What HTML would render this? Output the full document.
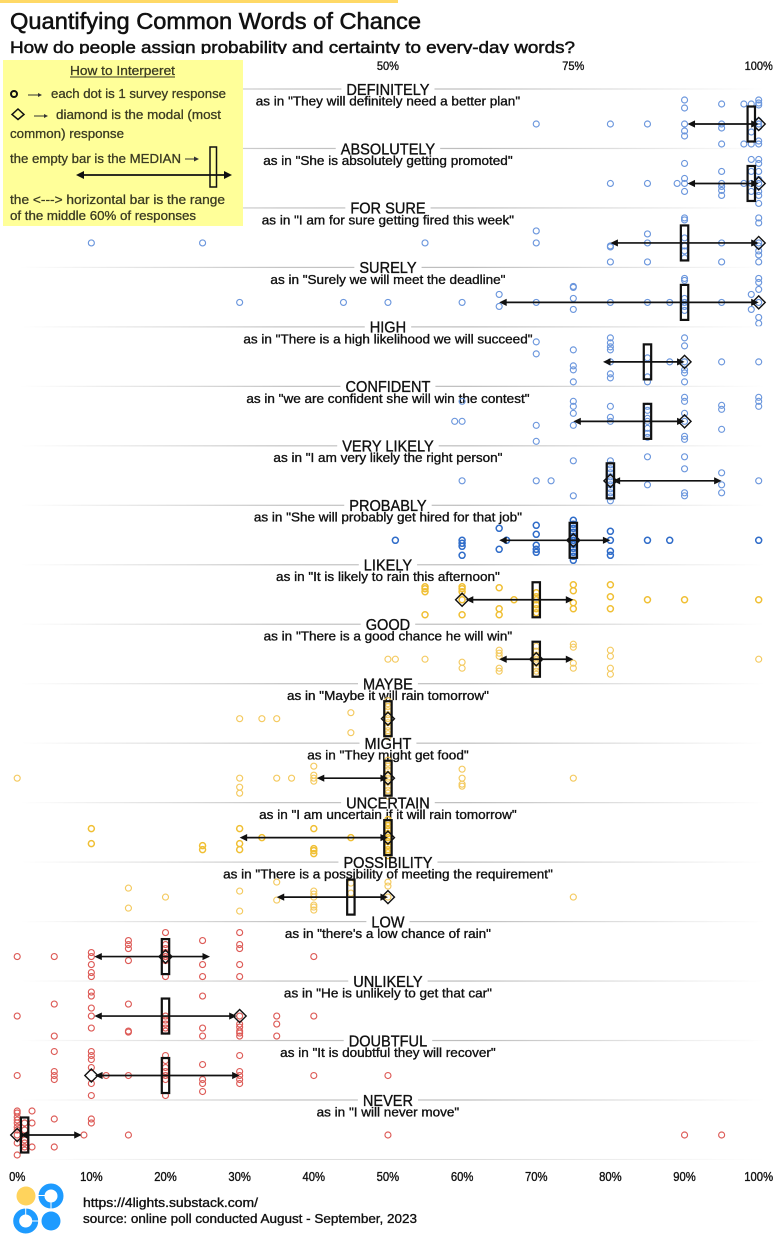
<!DOCTYPE html>
<html lang="en">
<head>
<meta charset="utf-8">
<title>Quantifying Common Words of Chance</title>
<style>
  html, body { margin: 0; padding: 0; background: #fff; }
  svg { display: block; }
  text { font-family: "Liberation Sans", "DejaVu Sans", sans-serif; }
  .ink { fill: #111; stroke: #111; stroke-width: 0.35px; }
  .legend-ink { fill: #3a3a22; stroke: #3a3a22; stroke-width: 0.28px; font-size: 12.5px; }
</style>
</head>
<body>
<svg id="chart" xmlns="http://www.w3.org/2000/svg" width="782" height="1245" viewBox="0 0 782 1245">
  <defs>
    <linearGradient id="rule-fade" gradientUnits="userSpaceOnUse" x1="20" y1="0" x2="765" y2="0">
      <stop offset="0" stop-color="#ffffff"/>
      <stop offset="0.35" stop-color="#c4c4c4"/>
      <stop offset="0.6" stop-color="#bdbdbd"/>
      <stop offset="1" stop-color="#ffffff"/>
    </linearGradient>
  </defs>
  <rect width="782" height="1245" fill="#ffffff"/>
  <rect x="0" y="0" width="398" height="3" fill="#ffd966"/>

  <text class="ink" style="stroke-width:0.55px" x="10" y="29" font-size="23" textLength="411" lengthAdjust="spacingAndGlyphs">Quantifying Common Words of Chance</text>
  <text class="ink" style="stroke-width:0.5px" x="10" y="53" font-size="16.5" textLength="565" lengthAdjust="spacingAndGlyphs">How do people assign probability and certainty to every-day words?</text>
  <rect x="0" y="54" width="782" height="7" fill="#ffffff"/>

  <g id="rows"></g>
  <g id="axes"></g>

  <g>
    <rect x="3" y="60" width="240" height="166" fill="#ffff99"/>
    <text class="legend-ink" x="70" y="75" font-size="12.5" textLength="105" lengthAdjust="spacingAndGlyphs">How to Interperet</text>
    <line x1="70" y1="77" x2="175" y2="77" stroke="#3a3a22" stroke-width="0.9"/>

    <circle cx="14" cy="94" r="3" fill="none" stroke="#111" stroke-width="2"/>
    <line x1="28" y1="95" x2="40" y2="95" stroke="#333" stroke-width="1"/>
    <polygon points="42,95 38,93 38,97" fill="#333"/>
    <text class="legend-ink" x="51" y="98" textLength="175" lengthAdjust="spacingAndGlyphs">each dot is 1 survey response</text>

    <polygon points="18,109 24,114.500 18,119.500 12,114.500" fill="none" stroke="#111" stroke-width="1.5"/>
    <line x1="34" y1="116" x2="46" y2="116" stroke="#333" stroke-width="1"/>
    <polygon points="48,116 44,114 44,118" fill="#333"/>
    <text class="legend-ink" x="56" y="119" textLength="165" lengthAdjust="spacingAndGlyphs">diamond is the modal (most</text>
    <text class="legend-ink" x="10" y="138" textLength="114" lengthAdjust="spacingAndGlyphs">common) response</text>

    <text class="legend-ink" x="10" y="163" textLength="171" lengthAdjust="spacingAndGlyphs">the empty bar is the MEDIAN</text>
    <line x1="185" y1="159" x2="196" y2="159" stroke="#333" stroke-width="1"/>
    <polygon points="199,159 194,156.500 194,161.500" fill="#333"/>
    <rect x="210" y="147" width="6.500" height="40" fill="none" stroke="#111" stroke-width="1.500"/>
    <line x1="80" y1="175" x2="228" y2="175" stroke="#111" stroke-width="1.800"/>
    <polygon points="76,175 84,171 84,179" fill="#111"/>
    <polygon points="232,175 224,171 224,179" fill="#111"/>

    <text class="legend-ink" x="10" y="204" textLength="215" lengthAdjust="spacingAndGlyphs">the &lt;---&gt; horizontal bar is the range</text>
    <text class="legend-ink" x="10" y="220" textLength="186" lengthAdjust="spacingAndGlyphs">of the middle 60% of responses</text>
  </g>

  <g>
    <circle cx="26" cy="1196" r="9.500" fill="#ffd35c"/>
    <circle cx="51" cy="1196" r="9.500" fill="none" stroke="#1e9bff" stroke-width="6"/>
    <rect x="38" y="1195" width="7" height="1" fill="#ffffff"/>
    <rect x="50.500" y="1202" width="1" height="7" fill="#ffffff"/>
    <circle cx="25.700" cy="1221" r="9.500" fill="none" stroke="#1e9bff" stroke-width="6"/>
    <rect x="32" y="1220.500" width="7" height="1" fill="#ffffff"/>
    <rect x="25.200" y="1208" width="1" height="7" fill="#ffffff"/>
    <circle cx="51" cy="1221" r="9.500" fill="#1e9bff"/>
  </g>

  <text class="ink" x="83" y="1207" font-size="13" textLength="175" lengthAdjust="spacingAndGlyphs">https://4lights.substack.com/</text>
  <text class="ink" x="83" y="1223" font-size="13" textLength="334" lengthAdjust="spacingAndGlyphs">source: online poll conducted August - September, 2023</text>
</svg>

<script>
// ---------- chart data ----------
const words = ["DEFINITELY","ABSOLUTELY","FOR SURE","SURELY","HIGH","CONFIDENT","VERY LIKELY","PROBABLY","LIKELY","GOOD","MAYBE","MIGHT","UNCERTAIN","POSSIBILITY","LOW","UNLIKELY","DOUBTFUL","NEVER"];
const sentences = [
  'as in "They will definitely need a better plan"',
  'as in "She is absolutely getting promoted"',
  'as in "I am for sure getting fired this week"',
  'as in "Surely we will meet the deadline"',
  'as in "There is a high likelihood we will succeed"',
  'as in "we are confident she will win the contest"',
  'as in "I am very likely the right person"',
  'as in "She will probably get hired for that job"',
  'as in "It is likely to rain this afternoon"',
  'as in "There is a good chance he will win"',
  'as in "Maybe it will rain tomorrow"',
  'as in "They might get food"',
  'as in "I am uncertain if it will rain tomorrow"',
  'as in "There is a possibility of meeting the requirement"',
  'as in "there\'s a low chance of rain"',
  'as in "He is unlikely to get that car"',
  'as in "It is doubtful they will recover"',
  'as in "I will never move"'
];
const medians   = [99,99,90,90,85,85,80,75,70,70,50,50,50,45,20,20,20,1];
const modes     = [100,100,100,100,90,90,80,75,60,70,50,50,50,50,20,30,10,0];
const rangeLow  = [90.4,90.4,80,65,79,75,80.3,65,60.5,65,50,40.4,30,35,10.4,10.4,10.5,0.4];
const rangeHigh = [100,100,100,100,90,90,95,80,75,75,50,50,50,50,26,29.6,30,8.7];
const sentiment = ["high","high","high","high","high","high","high","high","mid","mid","mid","mid","mid","mid","low","low","low","low"];
const topTicks = [50,75,100];
const bottomTicks = [0,10,20,30,40,50,60,70,80,90,100];

// Each response (percent) with its vertical jitter lane (-25 .. 25), row by row.
const responses = [
  [70,80,85,90,90,90,90,90,95,95,95,95,98,98,99,99,99,100,100,100,100,100,100,100,100],
  [80,85,89,90,90,90,90,95,95,95,95,95,98,99,99,99,99,100,100,100,100,100,100,100,100],
  [10,25,55,70,70,80,80,80,85,85,85,90,90,90,90,90,90,95,95,100,100,100,100,100,100,100],
  [30,44,50,60,65,65,70,75,75,75,75,80,85,88,90,90,90,90,90,90,95,99,99,100,100,100,100,100,100],
  [70,70,75,75,75,75,80,80,80,80,80,80,80,85,85,85,88,90,90,90,90,90,90,95,100],
  [59,60,60,70,70,75,75,75,75,80,80,80,85,85,85,85,85,85,85,90,90,90,90,90,90,95,95,95,100,100,100],
  [60,70,72,75,75,80,80,80,80,80,80,80,80,80,80,80,85,85,90,90,90,90,95,95,95,100],
  [51,60,60,60,60,65,65,66,70,70,70,70,70,75,75,75,75,75,75,75,75,75,75,75,80,80,80,80,85,88,100],
  [55,55,55,55,60,60,60,60,60,65,65,65,67,70,70,70,70,70,70,75,75,75,75,80,80,80,85,90,100],
  [50,51,55,60,60,65,65,65,65,65,70,70,70,70,70,70,70,70,75,75,75,75,80,80,80,80,100],
  [30,33,35,45,45,50,50,50,50,50,50,50,50,50,50,50],
  [0,30,30,30,35,37,40,40,40,40,50,50,50,50,50,50,50,50,50,50,50,60,60,60,60,75],
  [10,10,25,25,30,30,30,33,40,40,40,40,45,50,50,50,50,50,50,50,50,50,50,50],
  [15,15,20,30,30,35,35,40,40,40,40,40,40,45,45,50,50,50,75],
  [0,5,10,10,10,10,10,15,15,15,15,20,20,20,20,20,20,20,25,25,25,30,30,30,30,30,40],
  [0,5,5,10,10,10,10,10,15,15,15,20,20,20,20,20,25,25,25,30,30,30,30,30,30,35,35,35,40],
  [0,5,5,5,5,10,10,10,10,10,10,12,15,20,20,20,20,20,20,20,25,25,25,25,30,30,30,30,30,40,50],
  [0,0,0,0,0,0,0,0,0,0,1,1,1,1,1,1,2,2,2,5,5,9,10,10,15,50,90,95]
];
const jitter = [
  [0,0,0,-24,-16,0,7,12,-20,0,4,20,-20,20,-20,8,20,-24,-21,-19,-3,0,3,17,20],
  [0,0,0,-20,-5,0,8,-12,0,3,7,12,0,-24,-12,0,8,-24,-20,-12,-4,0,8,12,20],
  [0,0,0,-12,0,3,4,19,-9,0,19,-25,-23,-5,3,8,15,0,19,-25,-20,0,3,8,12,19],
  [0,0,0,0,-8,4,0,-16,-15,-4,7,0,0,0,-24,-22,-4,0,4,8,0,-8,7,-24,-20,-13,0,15,21],
  [-20,-8,-12,4,8,20,-24,-19,-15,-12,0,12,16,-4,15,20,0,-24,-16,0,8,11,20,0,0],
  [0,0,-20,4,20,-20,-15,-8,4,-15,-4,0,-15,-11,-3,0,7,12,16,-24,-20,-8,0,15,18,-16,-12,8,-24,-20,-15],
  [0,0,0,-20,15,-20,-16,-12,-8,-4,0,4,8,12,16,20,-24,4,-24,-12,12,15,-8,4,12,0],
  [0,0,3,6,15,-12,9,0,-15,-6,5,9,12,-20,-16,-12,-8,-4,0,4,8,12,16,20,-9,0,11,15,0,0,0],
  [-13,-11,-8,15,-13,-11,-8,0,15,-12,9,15,0,-7,-3,0,5,9,13,-15,-9,3,9,-15,-3,9,0,0,0],
  [0,0,0,3,9,-9,-6,-3,9,12,-13,-8,-4,0,4,8,12,15,-15,-12,4,9,-9,-3,9,15,0],
  [0,0,0,-6,14,-18,-15,-12,-8,-4,0,4,8,12,15,18],
  [0,0,9,15,0,0,-12,-3,0,3,-18,-15,-12,-8,-4,0,4,8,12,15,18,-9,0,6,8,0],
  [-9,6,8,12,-9,6,12,0,-9,11,13,16,0,-18,-15,-12,-8,-4,0,4,8,12,15,18],
  [-9,11,0,-6,14,-15,3,-6,-3,0,8,10,13,-14,-4,-15,-11,0,0],
  [0,0,-4,0,8,16,20,-16,-12,-8,4,-24,-12,-8,-4,0,4,20,-16,8,20,-24,-12,-8,8,20,0],
  [0,-12,20,-24,-20,-8,0,12,-12,15,16,0,4,8,12,15,-20,12,20,0,8,11,15,17,20,0,8,20,0],
  [0,-24,-4,0,4,-24,-20,-16,-8,8,20,0,0,-20,-15,-8,-4,0,4,20,-11,4,8,16,-20,-4,0,4,8,0,0],
  [-24,-22,-18,-15,-12,-8,-5,0,8,20,-12,-5,5,8,12,15,-24,-12,12,-16,12,0,-16,-12,0,0,0,0]
];

// ---------- axis functions ----------
function xScale(pct) { return 17.2 + 7.415 * pct; }
function rowY(i) { return 124 + 59.47 * i; }
function laneOffset(lane) { return lane * 1; }

const SVG_NS = "http://www.w3.org/2000/svg";
const rowsLayer = document.getElementById("rows");
const axesLayer = document.getElementById("axes");

function dotStroke(i) {
  if (sentiment[i] === "high") return i === 7 ? "#2f6cc9" : "#6c97dd";
  if (sentiment[i] === "mid") return (i === 8 || i === 12) ? "#f0bf33" : "#f4ca60";
  return "#dd5b57";
}
function dotWidth(i) {
  return (i === 7 || i === 8 || i === 12) ? 1.5 : 1.15;
}
function condense(el, centerX, k) {
  const w = el.getComputedTextLength() * k;
  el.setAttribute("textLength", w);
  el.setAttribute("lengthAdjust", "spacingAndGlyphs");
  el.setAttribute("x", centerX - w / 2);
  return w;
}

const centerX = xScale(50);

words.forEach(function (word, i) {
  const cy = rowY(i);
  const ruleY = cy - 35;

  const group = document.createElementNS(SVG_NS, "g");
  
  
  rowsLayer.appendChild(group);

  const wordText = document.createElementNS(SVG_NS, "text");
  
  
  wordText.setAttribute("class", "ink");
  wordText.setAttribute("y", cy - 29.2);
  wordText.setAttribute("font-size", "16");
  wordText.textContent = word;
  group.appendChild(wordText);
  const wordWidth = condense(wordText, centerX, 0.91);

  const sentenceText = document.createElementNS(SVG_NS, "text");
  
  
  sentenceText.setAttribute("class", "ink");
  sentenceText.setAttribute("y", cy - 18.6);
  sentenceText.setAttribute("font-size", "13");
  sentenceText.textContent = sentences[i];
  group.appendChild(sentenceText);
  condense(sentenceText, centerX, 1.04);

  const ruleLeft = document.createElementNS(SVG_NS, "rect");
  
  
  ruleLeft.setAttribute("x", 20);
  ruleLeft.setAttribute("y", ruleY - 0.6);
  ruleLeft.setAttribute("width", centerX - wordWidth / 2 - 5 - 20);
  ruleLeft.setAttribute("height", 1.2);
  ruleLeft.setAttribute("fill", "url(#rule-fade)");
  group.appendChild(ruleLeft);

  const ruleRight = document.createElementNS(SVG_NS, "rect");
  
  
  ruleRight.setAttribute("x", centerX + wordWidth / 2 + 5);
  ruleRight.setAttribute("y", ruleY - 0.6);
  ruleRight.setAttribute("width", 765 - (centerX + wordWidth / 2 + 5));
  ruleRight.setAttribute("height", 1.2);
  ruleRight.setAttribute("fill", "url(#rule-fade)");
  group.appendChild(ruleRight);

  responses[i].forEach(function (value, k) {
    const dot = document.createElementNS(SVG_NS, "circle");
    
    
    dot.setAttribute("cx", xScale(value));
    dot.setAttribute("cy", cy + laneOffset(jitter[i][k]));
    dot.setAttribute("r", 3);
    dot.setAttribute("fill", "none");
    dot.setAttribute("stroke", dotStroke(i));
    dot.setAttribute("stroke-width", dotWidth(i));
    group.appendChild(dot);
  });

  const medianBar = document.createElementNS(SVG_NS, "rect");
  
  
  medianBar.setAttribute("x", xScale(medians[i]) - 3.7);
  medianBar.setAttribute("y", cy - 17.5);
  medianBar.setAttribute("width", 7.4);
  medianBar.setAttribute("height", 35);
  medianBar.setAttribute("fill", "none");
  medianBar.setAttribute("stroke", "#111");
  medianBar.setAttribute("stroke-width", 2.2);
  group.appendChild(medianBar);

  const diamondX = xScale(modes[i]);
  const diamond = document.createElementNS(SVG_NS, "polygon");
  
  
  diamond.setAttribute("points", [
    diamondX + "," + (cy - 6.5),
    (diamondX + 6.5) + "," + cy,
    diamondX + "," + (cy + 6.5),
    (diamondX - 6.5) + "," + cy
  ].join(" "));
  diamond.setAttribute("fill", "none");
  diamond.setAttribute("stroke", "#111");
  diamond.setAttribute("stroke-width", 1.4);
  group.appendChild(diamond);

  if (rangeHigh[i] > rangeLow[i]) {
    const xa = xScale(rangeLow[i]);
    const xb = xScale(rangeHigh[i]);

    const rangeLine = document.createElementNS(SVG_NS, "line");
    
    
    rangeLine.setAttribute("x1", xa + 4);
    rangeLine.setAttribute("x2", xb - 4);
    rangeLine.setAttribute("y1", cy);
    rangeLine.setAttribute("y2", cy);
    rangeLine.setAttribute("stroke", "#111");
    rangeLine.setAttribute("stroke-width", 1.7);
    group.appendChild(rangeLine);

    const headLow = document.createElementNS(SVG_NS, "polygon");
    
    
    headLow.setAttribute("points", xa + "," + cy + " " + (xa + 7.5) + "," + (cy - 3.6) + " " + (xa + 7.5) + "," + (cy + 3.6));
    headLow.setAttribute("fill", "#111");
    group.appendChild(headLow);

    const headHigh = document.createElementNS(SVG_NS, "polygon");
    
    
    headHigh.setAttribute("points", xb + "," + cy + " " + (xb - 7.5) + "," + (cy - 3.6) + " " + (xb - 7.5) + "," + (cy + 3.6));
    headHigh.setAttribute("fill", "#111");
    group.appendChild(headHigh);
  }
});

// closing rule under the last row
const closingRule = document.createElementNS(SVG_NS, "rect");


closingRule.setAttribute("x", 20);
closingRule.setAttribute("y", rowY(words.length) - 35.5);
closingRule.setAttribute("width", 745);
closingRule.setAttribute("height", 1);
closingRule.setAttribute("fill", "url(#rule-fade)");
closingRule.setAttribute("opacity", "0.55");
rowsLayer.appendChild(closingRule);

topTicks.forEach(function (tick) {
  const label = document.createElementNS(SVG_NS, "text");
  
  
  label.setAttribute("class", "ink");
  label.setAttribute("y", 70);
  label.setAttribute("font-size", "12");
  label.textContent = tick + "%";
  axesLayer.appendChild(label);
  condense(label, xScale(tick), 0.92);
});

bottomTicks.forEach(function (tick) {
  const label = document.createElementNS(SVG_NS, "text");
  
  
  label.setAttribute("class", "ink");
  label.setAttribute("y", 1181);
  label.setAttribute("font-size", "12.5");
  label.textContent = tick + "%";
  axesLayer.appendChild(label);
  condense(label, xScale(tick), 0.9);
});
</script>
</body>
</html>
